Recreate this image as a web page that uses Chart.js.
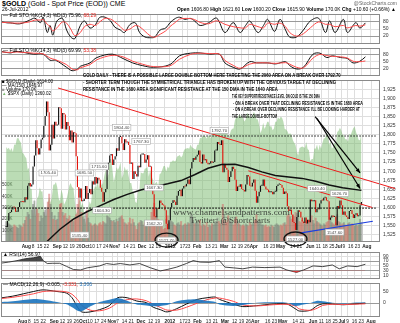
<!DOCTYPE html>
<html>
<head>
<meta charset="UTF-8">
<title>$GOLD daily</title>
<script src="https://cdn.jsdelivr.net/npm/chart.js@4.4.1/dist/chart.umd.min.js"></script>
<style>
  body { margin:0; background:#fff; font-family:"Liberation Sans", Arial, sans-serif; }
  #wrap { position:relative; width:400px; height:323px; overflow:hidden; }
  canvas { position:absolute; left:0; }
  .t { position:absolute; white-space:nowrap; line-height:1; color:#000; transform-origin:0 50%; }
  .note { font-weight:bold; font-size:5.5px; }
  .red { color:#e0201a; } .blue { color:#1f6fb5; }
  .wm { font-family:"Liberation Serif","DejaVu Serif",serif; font-size:9px; color:rgba(30,30,30,.8); }
</style>
</head>
<body>
<div id="wrap">
  <canvas id="cSto1" width="400" height="42" style="top:8px"></canvas>
  <canvas id="cSto2" width="400" height="40" style="top:42px"></canvas>
  <canvas id="cMain" width="400" height="177" style="top:74px"></canvas>
  <canvas id="cRsi" width="400" height="39" style="top:246px"></canvas>
  <canvas id="cMacd" width="400" height="46" style="top:277px"></canvas>

  <div class="t" style="left:2px;top:0;font-size:7px"><b>$GOLD</b> (Gold - Spot Price (EOD)) CME</div>
  <div class="t" style="left:2px;top:7px;font-size:5px">26-Jul-2012</div>
  <div class="t" style="right:3px;top:1px;font-size:5px;color:#666">@StockCharts.com</div>
  <div class="t" style="left:177px;top:7px;font-size:5px" data-w="219"><b>Open</b> 1606.80 <b>High</b> 1621.60 <b>Low</b> 1600.20 <b>Close</b> 1615.90 <b>Volume</b> 170.0K <b>Chg</b> +10.60 (+0.66%) ▲</div>

  <div class="t" style="left:3px;top:13px;font-size:5px">— Full STO %K(14,3) %D(3) 75.96, <span class="red">68.29</span></div>
  <div class="t" style="left:3px;top:48px;font-size:5px">— Full STO %K(14,3) %D(3) 69.99, <span class="red">53.38</span></div>

  <div class="t" style="left:2px;top:79.5px;font-size:4.5px">■ $GOLD (Daily) 1614.00</div>
  <div class="t" style="left:2px;top:84px;font-size:4.5px">— MA(150) 1646.97</div>
  <div class="t" style="left:2px;top:88px;font-size:4.5px"><span style="color:#999">■</span> Volume 170.0K</div>
  <div class="t" style="left:2px;top:92px;font-size:4.5px"><span style="color:#7cb870">▲</span> $SPX (Daily) 1360.02</div>

  <div class="t note" style="left:83px;top:72.5px" data-w="258">GOLD DAILY - THERE IS A POSSIBLE LARGE DOUBLE BOTTOM HERE TARGETING THE 2060 AREA ON A BREAK OVER 1792.70</div>
  <div class="t note" style="left:83px;top:79.5px" data-w="253">- SHORTER TERM THOUGH THE SYMMETRICAL TRIANGLE HAS BROKEN UP WITH THE OBVIOUS TARGET AT DECLINING</div>
  <div class="t note" style="left:83px;top:86.5px" data-w="195">RESISTANCE IN THE 1680 AREA SIGNIFICANT RESISTANCE AT THE 150 DMA IN THE 1640 AREA</div>
  <div class="t note" style="left:232px;top:94px" data-w="88">THE KEY SUPPORT/RESISTANCE LEVEL ON GOLD IS THE 150 DMA</div>
  <div class="t note" style="left:233px;top:100.5px" data-w="130">- ON A BREAK OVER THAT DECLINING RESISTANCE IS IN THE 1680 AREA</div>
  <div class="t note" style="left:233px;top:107px" data-w="127">- ON A BREAK OVER DECLINING RESISTANCE I'LL BE LOOKING HARDER AT</div>
  <div class="t note" style="left:232px;top:113.5px" data-w="45">THE LARGE DOUBLE-BOTTOM</div>

  <div class="t wm" style="left:173px;top:208px" data-w="117">www.channelsandpatterns.com</div>
  <div class="t wm" style="left:190px;top:216px" data-w="80">Twitter: @Shortcharts</div>

  <div class="t" style="left:3px;top:252px;font-size:5px">▲ RSI(14) 56.97</div>
  <div class="t" style="left:3px;top:282px;font-size:5px">— MACD(12,26,9) -0.005, <span class="red">-3.331,</span> <span class="blue">3.306</span></div>
</div>

<script>
const FONT = '"Liberation Sans", Arial, sans-serif';

// trading-day index: 0 = 11 Jul 2011 ... 264 = 26 Jul 2012
const closes = [
  1546,1563,1585,1587,1594,1602,1600,1588,1588,1601,1614,1617,1615,1614,1628,
  1622,1660,1667,1658,1663,1713,1743,1785,1763,1746,1763,1787,1792,1825,1852,1892,1862,1757,1773,1828,1790,1836,1826,
  1828,1876,1873,1817,1860,1856,1815,1835,1824,1785,1812,1779,1807,1804,1741,1656,1627,1652,1617,1618,1624,
  1659,1623,1640,1651,1636,1672,1663,1684,1666,1682,1676,1654,1643,1616,1642,1651,1704,1723,1743,1747,1717,
  1732,1741,1763,1756,1794,1795,1777,1758,1788,1779,1781,1772,1720,1724,1678,1700,1692,1685,1715,1711,1746,
  1746,1747,1723,1732,1744,1712,1713,1663,1636,1575,1573,1598,1596,1619,1612,1607,1605,1592,1555,1540,1565,
  1600,1612,1620,1616,1607,1632,1645,1649,1631,1652,1659,1658,1665,1677,1664,1707,1725,1736,1731,1740,
  1745,1757,1725,1721,1746,1730,1733,1723,1719,1721,1727,1723,1725,1757,1757,1780,1775,1772,1785,1697,
  1720,1709,1704,1670,1684,1700,1712,1706,1676,1645,1658,1657,1664,1651,1648,1644,1663,1689,1685,1660,1658,1668,
  1677,1646,1613,1631,1643,1660,1660,1677,1658,1650,1649,1642,1642,1643,1636,1643,1644,1659,1663,1664,
  1662,1654,1637,1644,1639,1603,1590,1594,1580,1560,1557,1538,1574,1592,1588,1572,1561,1557,1572,1556,1566,1559,
  1622,1617,1617,1620,1587,1596,1595,1611,1620,1619,1627,1628,1619,1617,1566,1572,1578,1574,1575,1551,1604,
  1597,1619,1606,1580,1589,1578,1574,1568,1590,1592,1582,1571,1580,1584,1576,1578,1606,1615
];
// volume in thousands
const volumes = [
  180,170,160,150,140,130,150,140,130,120,150,140,130,160,190,
  220,260,240,200,280,330,360,300,290,250,180,230,210,260,280,300,350,420,330,260,200,230,190,
  200,260,330,340,260,230,250,210,200,230,190,200,180,210,240,330,380,300,260,220,200,
  250,280,210,170,160,140,150,160,150,140,160,170,150,180,170,160,230,220,210,190,180,
  190,170,200,180,210,220,230,200,170,160,150,170,210,160,200,170,140,110,160,170,190,
  180,150,170,160,170,190,170,260,300,340,290,220,200,180,150,150,110,120,200,230,170,
  190,180,170,150,140,160,170,150,180,140,150,160,150,170,160,230,240,190,160,170,
  170,160,190,140,160,150,140,170,130,150,140,160,150,170,180,210,180,160,190,330,
  240,190,170,230,200,180,170,150,200,220,180,160,150,140,150,140,160,150,140,170,150,160,
  170,190,240,180,160,170,150,150,140,150,130,140,130,150,140,130,150,160,150,140,
  150,140,160,170,150,230,240,220,200,240,220,260,250,230,180,170,190,170,160,180,170,190,
  300,230,190,160,210,180,170,160,150,140,160,150,170,180,280,220,170,160,150,170,240,
  180,170,150,160,170,150,140,160,170,150,160,150,140,150,140,150,200,170
];
// S&P 500 overlay (green area)
const spx = [
  1319,1313,1317,1308,1316,1305,1326,1325,1343,1345,1337,1331,1304,1300,1292,
  1287,1254,1260,1200,1199,1119,1172,1120,1172,1179,1204,1192,1193,1140,1123,1123,1162,1177,1159,1177,1211,1212,1219,
  1204,1173,1165,1198,1185,1154,1162,1172,1189,1209,1216,1204,1202,1166,1129,1136,1162,1175,1151,1160,1131,
  1099,1124,1144,1164,1155,1195,1195,1207,1204,1225,1200,1225,1209,1216,1238,1254,1229,1242,1285,1285,1253,
  1219,1237,1262,1253,1261,1276,1229,1240,1263,1251,1257,1237,1216,1216,1193,1188,1162,1159,1192,1195,1247,
  1244,1244,1257,1258,1262,1234,1255,1236,1226,1212,1216,1220,1205,1241,1244,1254,1265,1265,1249,1263,1258,
  1277,1277,1281,1278,1280,1292,1293,1296,1289,1294,1308,1314,1315,1316,1314,1326,1318,1316,1313,1312,
  1325,1325,1345,1344,1350,1351,1350,1343,1352,1351,1344,1359,1362,1362,1357,1364,1366,1368,1373,1366,
  1375,1370,1364,1344,1352,1366,1371,1372,1396,1403,1402,1410,1409,1406,1402,1392,1397,1416,1413,1405,1403,1408,
  1419,1413,1398,1398,1382,1358,1369,1388,1370,1379,1391,1391,1377,1379,1367,1372,1391,1391,1404,1398,
  1405,1402,1392,1370,1369,1364,1355,1358,1354,1339,1331,1325,1305,1295,1316,1318,1320,1318,1317,1333,1313,1310,
  1278,1285,1285,1315,1314,1326,1309,1325,1314,1330,1343,1344,1358,1355,1325,1336,1314,1319,1331,1329,1362,
  1365,1374,1367,1354,1352,1341,1341,1334,1357,1353,1364,1373,1377,1362,1350,1339,1338,1361
];

const maIdx = [30,40,50,60,70,80,90,100,110,120,130,140,150,160,170,180,190,200,210,220,230,240,250,264];
const maVal = [1505,1540,1568,1588,1605,1622,1636,1648,1657,1665,1674,1690,1708,1718,1719,1710,1698,1688,1684,1680,1672,1662,1654,1647];

const sto1Idx = [0,4,6,13,20,24,28,30,33,35,37,40,44,47,50,53,57,60,64,68,71,75,79,82,86,89,93,97,100,104,108,111,115,119,122,126,129,133,137,140,144,150,156,162,168,173,177,180,186,190,193,198,202,206,209,214,219,224,230,235,238,242,248,251,257,260,264];
const sto1K = [80,76,76,72,87,96,77,100,35,65,24,84,95,46,16,9,65,84,54,69,99,100,84,58,46,35,69,76,35,16,13,16,46,54,76,95,100,91,95,84,65,76,96,35,77,35,65,84,35,65,91,40,91,46,16,16,46,84,96,35,84,35,91,35,77,54,76];
const sto1D = [78,78,76,75,80,88,88,90,70,60,42,55,80,75,50,22,35,60,70,65,80,95,92,80,60,45,50,65,60,40,20,15,28,42,60,78,92,95,94,90,78,72,85,70,60,55,55,70,60,55,75,70,75,60,35,20,30,55,80,70,70,60,65,55,65,62,68];

const sto2Idx = [0,6,11,23,30,35,39,47,51,55,57,64,69,80,88,95,102,110,122,129,137,144,151,158,162,168,173,180,185,193,199,206,209,214,219,226,231,236,240,246,251,255,260,264];
const sto2K = [92,86,92,81,81,56,56,27,13,20,31,45,67,81,63,45,34,27,38,74,85,86,81,81,45,27,20,50,45,45,41,50,34,20,27,81,85,67,74,67,63,45,52,70];
const sto2D = [90,88,90,85,82,65,58,38,20,17,25,38,58,76,70,52,40,30,33,60,80,85,83,81,55,35,23,40,45,45,43,46,40,27,25,65,80,75,72,70,65,52,50,53];

const rsiIdx = [0,5,11,17,23,28,30,33,37,42,47,52,57,62,71,76,81,86,93,100,108,115,120,127,134,139,144,151,158,162,168,175,182,191,202,207,214,219,226,233,240,245,251,258,264];
const rsiVal = [62,66,72,80,84,90,72,60,61,61,48,35,33,42,50,60,56,60,54,60,42,29,35,45,60,72,66,65,72,45,42,38,45,43,45,33,23,33,50,47,54,38,50,47,57];

const macdIdx = [0,8,23,30,40,47,51,55,58,64,71,78,84,91,98,105,110,115,120,127,134,142,149,155,158,168,175,185,197,207,213,216,224,229,233,240,248,255,264];
const macdVal = [23,30,50,57,50,43,23,-18,-38,-38,-28,-11,23,23,9,2,-18,-28,-38,-24,-4,16,23,26,16,-4,-15,-11,-4,-4,-24,-34,-31,-11,-3,-4,-7,-4,0];
const macdSig = [20,25,40,50,52,48,38,15,-10,-30,-33,-22,0,15,18,10,-5,-18,-30,-30,-18,0,15,22,22,8,-8,-12,-7,-5,-12,-25,-31,-22,-10,-5,-6,-5,-3];
const macdHist = [5,8,18,15,5,-5,-18,-33,-35,-15,5,15,22,10,-6,-10,-14,-12,-8,8,14,16,10,5,-6,-12,-8,2,4,2,-12,-10,0,10,8,2,-2,2,3];

const tickIdx = [15,20,25,30,38,44,49,54,59,64,69,74,80,84,89,94,101,108,113,122,131,135,142,150,155,162,169,174,179,184,193,198,204,213,218,226,232,237,242,247,251,256,261,268];
const tickText = ['Aug','8','15','22','Sep','12','19','26','Oct','10','17','24','Nov','7','14','21','Dec','12','19','2012','17','23','Feb','13','21','Mar','12','19','26','Apr','16','23','May','14','21','Jun','11','18','25','Jul','9','16','23','Aug'];
const goldTicks = [1525,1550,1575,1600,1625,1650,1675,1700,1725,1750,1775,1800,1825,1850,1875,1900,1925];
const volTicks = [100,200,300,400,500];

// hand-drawn annotations, in chart units (trading-day index, price)
const resistIdx = [38.6, 289], resistVal = [1929, 1652];
const triIdx = [180, 272], triVal = [1701, 1600];
const supportIdx = [218, 272.5], supportVal = [1529, 1562];
const levelVal = [1796.7, 1598];
const arrowIdx = [[229.6, 263], [231, 263]], arrowVal = [[1850, 1695], [1845, 1652]];
const circleIdx = [119.2, 215], circleVal = [1510, 1513];
const labelIdx = [31.3, 85.8, 100.3, 158.4, 119.2, 215, 54.6, 71.3, 58.2, 69.1, 109.8, 109.8, 231, 247.7, 244.1];
const labelVal = [1695, 1820, 1782, 1812, 1510, 1513, 1524, 1592, 1695, 1712, 1654, 1557, 1652, 1638, 1532];
const labelText = ['1705.40', '1804.40', '1767.30', '1792.70', '1522.70', '1527.00', '1535.40', '1604.30',
  '1681.50', '1715.60', '1667.30', '1562.20', '1640.40', '1626.70', '1547.60'];

const XMIN = -0.61, XMAX = 274.6, PAD = 4;
const pts = (xs, ys) => xs.map((x, i) => ({ x: x, y: ys[i] }));

function xScale(show, h) {
  return {
    type: 'linear', min: XMIN, max: XMAX,
    afterBuildTicks: s => { s.ticks = tickIdx.map(v => ({ value: v })); },
    afterFit: s => { s.height = h; },
    ticks: {
      display: show, autoSkip: false, maxRotation: 0, padding: 1.5, color: '#222',
      font: c => ({ size: 4.8, family: FONT, weight: /[A-Z]|2012/.test(tickText[c.index]) ? 'bold' : 'normal' }),
      callback: (v, i) => tickText[i]
    },
    grid: { color: '#dedede', drawTicks: false },
    border: { display: false }
  };
}
function yRight(min, max, ticks, gridColor) {
  return {
    position: 'right', min: min, max: max,
    afterBuildTicks: s => { s.ticks = ticks.map(v => ({ value: v })); },
    afterFit: s => { s.width = 20; },
    ticks: { autoSkip: false, padding: 3, color: '#333', font: { size: 5, family: FONT } },
    grid: { color: gridColor || '#dedede', drawTicks: false },
    border: { display: false }
  };
}
const frame = {
  id: 'frame',
  afterDraw(c) {
    const a = c.chartArea, g = c.ctx;
    g.save(); g.strokeStyle = '#8a8a8a'; g.lineWidth = 1;
    g.strokeRect(Math.round(a.left) + 0.5, Math.round(a.top) + 0.5, Math.round(a.width) - 1, Math.round(a.height) - 1);
    g.restore();
  }
};
const base = (padTop, padBottom) => ({
  responsive: false, animation: false, events: [],
  layout: { padding: { left: 1, right: 0, top: padTop, bottom: padBottom } },
  plugins: { legend: { display: false }, tooltip: { enabled: false } }
});
const lineDs = (data, color, w, extra) => Object.assign({ type: 'line', data: data, borderColor: color, borderWidth: w, pointRadius: 0, fill: false }, extra || {});
const levelGrid = (hi, lo) => c => (c.tick.value === hi || c.tick.value === lo) ? '#9a9a9a' : '#dedede';

function stoChart(id, idx, k, d, min, max) {
  new Chart(document.getElementById(id), {
    type: 'line',
    data: { datasets: [
      lineDs(pts(idx, d), '#ff4a4a', 1, { tension: 0.35 }),
      lineDs(pts(idx, k), '#111', 1, { tension: 0.35 })
    ] },
    options: Object.assign(base(PAD, PAD), {
      scales: { x: xScale(false, 0), y: yRight(min, max, [20, 50, 80], levelGrid(80, 20)) }
    }),
    plugins: [frame]
  });
}
stoChart('cSto1', sto1Idx, sto1K, sto1D, -13.6, 113.7);
stoChart('cSto2', sto2Idx, sto2K, sto2D, -8.8, 106.3);

// main price panel
const candleData = closes.map((c, i) => ({ x: i, y: [i ? closes[i - 1] : c, c] }));
const downDay = closes.map((c, i) => i > 0 && c < closes[i - 1]);
const marks = {
  id: 'marks',
  afterDatasetsDraw(c) {
    const x = c.scales.x, y = c.scales.y, g = c.ctx;
    g.save();
    arrowIdx.forEach((xi, k) => {
      const x0 = x.getPixelForValue(xi[0]), y0 = y.getPixelForValue(arrowVal[k][0]);
      const x1 = x.getPixelForValue(xi[1]), y1 = y.getPixelForValue(arrowVal[k][1]);
      const a = Math.atan2(y1 - y0, x1 - x0), L = 5;
      g.beginPath(); g.moveTo(x1, y1);
      g.lineTo(x1 - L * Math.cos(a - 0.4), y1 - L * Math.sin(a - 0.4));
      g.lineTo(x1 - L * Math.cos(a + 0.4), y1 - L * Math.sin(a + 0.4));
      g.closePath(); g.fillStyle = '#000'; g.fill();
    });
    g.font = '4.3px ' + FONT; g.textAlign = 'center'; g.textBaseline = 'middle';
    labelIdx.forEach((li, k) => {
      const lx = x.getPixelForValue(li), ly = y.getPixelForValue(labelVal[k]);
      const w = g.measureText(labelText[k]).width + 3;
      g.fillStyle = '#fff'; g.fillRect(lx - w / 2, ly - 3, w, 6);
      g.strokeStyle = '#aaa'; g.lineWidth = 0.6; g.strokeRect(lx - w / 2, ly - 3, w, 6);
      g.fillStyle = '#444'; g.fillText(labelText[k], lx, ly + 0.3);
    });
    circleIdx.forEach((ci, k) => {
      const cx = x.getPixelForValue(ci), cy = y.getPixelForValue(circleVal[k]);
      g.beginPath(); g.ellipse(cx, cy, 11.5, 7, 0, 0, Math.PI * 2);
      g.lineWidth = 1.3; g.strokeStyle = '#111'; g.stroke();
    });
    g.restore();
  }
};
new Chart(document.getElementById('cMain'), {
  type: 'bar',
  data: { datasets: [
    lineDs(closes.map((c, i) => ({ x: i, y: spx[i] })), 'rgba(0,0,0,0)', 0,
      { yAxisID: 'ySpx', fill: 'start', backgroundColor: 'rgba(120,186,108,0.5)', order: 10 }),
    { type: 'bar', yAxisID: 'yVol', grouped: false, barPercentage: 1, categoryPercentage: 1, order: 9,
      data: volumes.map((v, i) => ({ x: i, y: v })),
      backgroundColor: downDay.map(d => d ? 'rgba(214,96,96,0.5)' : 'rgba(110,110,110,0.45)') },
    { type: 'bar', yAxisID: 'y', grouped: false, barPercentage: 0.85, categoryPercentage: 1, minBarLength: 1, order: 5,
      data: candleData, backgroundColor: downDay.map(d => d ? '#e3140c' : '#111') },
    lineDs(pts(maIdx, maVal), '#111', 1.5, { order: 3 }),
    lineDs(pts([XMIN, XMAX], [levelVal[0], levelVal[0]]), '#111', 1.2, { borderDash: [1.5, 1.5], order: 2 }),
    lineDs(pts([XMIN, XMAX], [levelVal[1], levelVal[1]]), '#111', 1.2, { borderDash: [1.5, 1.5], order: 2 }),
    lineDs(pts(resistIdx, resistVal), '#ee1c1c', 1, { order: 1, clip: false }),
    lineDs(pts(triIdx, triVal), '#ee1c1c', 1, { order: 1, clip: false }),
    lineDs(pts(supportIdx, supportVal), '#1d3fe0', 1.2, { order: 1 }),
    lineDs(pts(arrowIdx[0], arrowVal[0]), '#000', 1.2, { order: 1 }),
    lineDs(pts(arrowIdx[1], arrowVal[1]), '#000', 1.2, { order: 1 })
  ] },
  options: Object.assign(base(PAD, 0), {
    scales: {
      x: xScale(true, 9),
      y: yRight(1504.8, 1951, goldTicks),
      yVol: {
        position: 'left', min: 0, max: 1420,
        afterBuildTicks: s => { s.ticks = volTicks.map(v => ({ value: v })); },
        afterFit: s => { s.width = 0; },
        ticks: { mirror: true, padding: 1, color: '#333', font: { size: 4.5, family: FONT }, callback: v => v + 'K' },
        grid: { display: false }, border: { display: false }
      },
      ySpx: { display: false, min: 1048, max: 1510 }
    }
  }),
  plugins: [frame, marks]
});

// RSI
new Chart(document.getElementById('cRsi'), {
  type: 'line',
  data: { datasets: [
    lineDs(pts(rsiIdx, rsiVal), 'rgba(0,0,0,0)', 0, { fill: { value: 70, above: 'rgba(40,40,40,0.85)', below: 'rgba(0,0,0,0)' } }),
    lineDs(pts(rsiIdx, rsiVal), 'rgba(0,0,0,0)', 0, { fill: { value: 30, above: 'rgba(0,0,0,0)', below: 'rgba(220,30,30,0.85)' } }),
    lineDs(pts(rsiIdx, rsiVal), '#333', 0.9)
  ] },
  options: Object.assign(base(PAD, PAD), {
    scales: { x: xScale(false, 0), y: yRight(-4.5, 108, [10, 30, 50, 70, 90], levelGrid(70, 30)) }
  }),
  plugins: [frame]
});

// MACD
new Chart(document.getElementById('cMacd'), {
  type: 'line',
  data: { datasets: [
    lineDs(pts(macdIdx, macdHist), 'rgba(0,0,0,0)', 0, { fill: 'origin', backgroundColor: 'rgba(25,115,190,0.9)', tension: 0.3 }),
    lineDs(pts(macdIdx, macdSig), '#ff4a4a', 1, { tension: 0.3 }),
    lineDs(pts(macdIdx, macdVal), '#111', 1, { tension: 0.3 })
  ] },
  options: Object.assign(base(PAD, 0), {
    scales: { x: xScale(true, 6), y: yRight(-59.8, 86.6, [0, 50], c => c.tick.value === 0 ? '#9a9a9a' : '#dedede') }
  }),
  plugins: [frame]
});

// squeeze the annotation texts to the widths they take in the picture
document.querySelectorAll('[data-w]').forEach(el => {
  el.style.transform = 'scaleX(' + (el.dataset.w / el.offsetWidth) + ')';
});
</script>
</body>
</html>
